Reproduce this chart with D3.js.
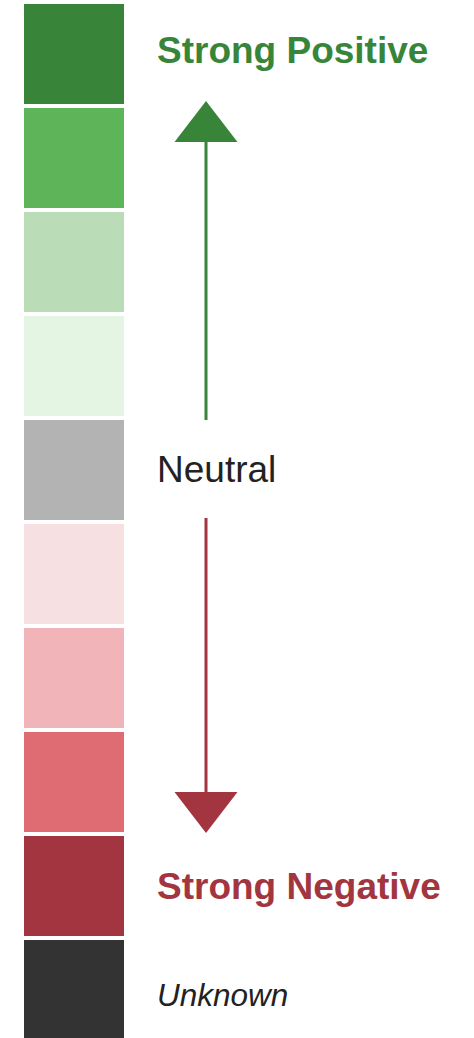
<!DOCTYPE html>
<html><head><meta charset="utf-8">
<script src="https://cdn.jsdelivr.net/npm/d3@7"></script>
<style>html,body{margin:0;padding:0;background:#fff;}svg{display:block;}</style>
</head><body>
<svg id="chart" width="474" height="1038"></svg>
<script>
const categories = ["strong_pos","pos","weak_pos","slight_pos","neutral","slight_neg","weak_neg","neg","strong_neg","unknown"];
const colors = ["#38853a","#5db459","#badcb7","#e5f5e3","#b3b3b3","#f6e0e2","#f0b4b9","#df6b73","#a23540","#333333"];
const labels = [
  {cat:"strong_pos", text:"Strong Positive", color:"#38853a", weight:"bold", style:"normal", size:37, dy:9},
  {cat:"neutral", text:"Neutral", color:"#222222", weight:"normal", style:"normal", size:37, dy:11.5},
  {cat:"strong_neg", text:"Strong Negative", color:"#a23540", weight:"bold", style:"normal", size:37, dy:13},
  {cat:"unknown", text:"Unknown", color:"#222222", weight:"normal", style:"italic", size:31.5, dy:15.5}
];

const svg = d3.select("#chart");
const y = d3.scaleBand().domain(categories).range([4, 1040]).paddingInner(4/104).paddingOuter(0);
const x0 = 24, w = 100;

svg.selectAll("rect.sw").data(categories).join("rect")
  .attr("class","sw")
  .attr("x", x0).attr("y", d => y(d)).attr("width", w).attr("height", y.bandwidth())
  .attr("fill", (d,i) => colors[i]);

svg.selectAll("text.lb").data(labels).join("text")
  .attr("class","lb")
  .attr("x", 157)
  .attr("y", d => y(d.cat) + y.bandwidth()/2 + d.dy)
  .attr("fill", d => d.color)
  .attr("font-family", "Liberation Sans, Arial, sans-serif")
  .attr("font-weight", d => d.weight)
  .attr("font-style", d => d.style)
  .attr("font-size", d => d.size)
  .text(d => d.text);

const ax = 206, hw = 31.5, hh = 41;
// green up arrow
const gTop = y("pos") - 7, gBottom = y("neutral");
svg.append("line").attr("x1", ax).attr("x2", ax).attr("y1", gTop + hh - 1).attr("y2", gBottom)
  .attr("stroke", colors[0]).attr("stroke-width", 3);
svg.append("path").attr("d", `M${ax},${gTop} L${ax+hw},${gTop+hh} L${ax-hw},${gTop+hh} Z`).attr("fill", colors[0]);
// red down arrow
const rTop = y("neutral") + y.bandwidth() - 2, rBottom = y("strong_neg") - 3;
svg.append("line").attr("x1", ax).attr("x2", ax).attr("y1", rTop).attr("y2", rBottom - hh + 1)
  .attr("stroke", colors[8]).attr("stroke-width", 3);
svg.append("path").attr("d", `M${ax},${rBottom} L${ax+hw},${rBottom-hh} L${ax-hw},${rBottom-hh} Z`).attr("fill", colors[8]);
</script>
</body></html>
